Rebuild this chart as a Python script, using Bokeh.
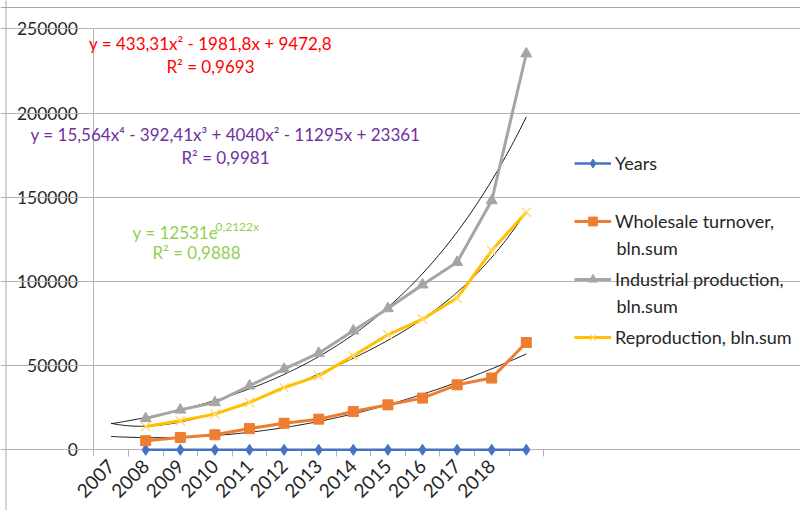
import numpy as np
from bokeh.plotting import figure
from bokeh.models import (FixedTicker, Range1d, Legend, LegendItem, Label, LinearAxis,
                          BasicTickFormatter, Grid, Span)
from bokeh.embed import file_html
from bokeh.resources import INLINE

# ---- data ----
tick_labels = ["2007", "2008", "2009", "2010", "2011", "2012", "2013",
               "2014", "2015", "2016", "2017", "2018"]
cat_index = [2, 3, 4, 5, 6, 7, 8, 9, 10, 11, 12, 13]
years = [0, 0, 0, 0, 0, 0, 0, 0, 0, 0, 0, 0]
wholesale = [5400, 7300, 8900, 12600, 15800, 18200, 22700, 26700, 30700, 38600, 42600, 63700]
industrial = [18600, 23700, 28100, 38000, 47900, 57400, 70700, 83900, 98000, 111400, 148000, 235200]
reproduction = [13800, 17200, 21200, 28100, 37000, 43900, 55800, 68300, 77600, 90100, 118300, 141100]
y_ticks = [0, 50000, 100000, 150000, 200000, 250000]

# trendline coefficients as displayed on the chart (x = 1..13)
quad_coef = [433.31, -1981.8, 9472.8]                     # wholesale
poly4_coef = [15.564, -392.41, 4040.0, -11295.0, 23361.0]  # reproduction
exp_coef = [12531.0, 0.2122]                               # industrial

FONT = "Lato"
W, H = 800, 510
PX_PER_CAT = 34.6
AXIS_X_PX = 93.3       # y axis position (category boundary 0.5)
ZERO_Y_PX = 449.3      # y = 0 position
PX_PER_UNIT_Y = 84.2 / 50000

x_start = 0.5 - AXIS_X_PX / PX_PER_CAT
x_end = 0.5 + (W - AXIS_X_PX) / PX_PER_CAT
y_end = ZERO_Y_PX / PX_PER_UNIT_Y
y_start = -(H - ZERO_Y_PX) / PX_PER_UNIT_Y


def px2x(px):
    return (px - AXIS_X_PX) / PX_PER_CAT + 0.5


def py2y(py):
    return (ZERO_Y_PX - py) / PX_PER_UNIT_Y


p = figure(width=W, height=H, output_backend="svg", toolbar_location=None,
           x_range=Range1d(x_start, x_end), y_range=Range1d(y_start, y_end),
           x_axis_location=None, y_axis_location=None,
           min_border=0)
p.outline_line_color = None
p.background_fill_color = "white"
p.border_fill_color = "white"
p.xgrid.visible = False
p.ygrid.visible = False

# chart-area border (top and left edges visible in the reference)
p.add_layout(Span(location=py2y(7), dimension="width", line_color="#a6a6a6",
                  line_width=1, level="underlay"))
p.add_layout(Span(location=px2x(5.5), dimension="height", line_color="#a6a6a6",
                  line_width=1, level="underlay"))

grid = Grid(dimension=1, ticker=FixedTicker(ticks=y_ticks), bounds=(0.5, 13.5),
            grid_line_color="#b4b4b4", grid_line_width=1, level="underlay")
p.add_layout(grid)

yax = LinearAxis(fixed_location=0.5, ticker=FixedTicker(ticks=y_ticks),
                 formatter=BasicTickFormatter(use_scientific=False),
                 bounds=(0, 250000), level="underlay")
yax.axis_line_color = "#b4b4b4"
yax.major_tick_line_color = "#b4b4b4"
yax.major_tick_out = 7
yax.major_tick_in = 0
yax.minor_tick_line_color = None
yax.major_label_text_font = FONT
yax.major_label_text_font_size = "17.5px"
yax.major_label_text_color = "#262626"
yax.major_label_standoff = 9
p.add_layout(yax, "left")

label_ticks = [i + 1 for i in range(len(tick_labels))]
xax = LinearAxis(fixed_location=0, bounds=(0.5, 13.5), level="underlay",
                 ticker=FixedTicker(ticks=label_ticks,
                                    minor_ticks=[i + 0.5 for i in range(0, 14)]))
xax.major_label_overrides = {t: lab for t, lab in zip(label_ticks, tick_labels)}
xax.major_tick_line_color = None
xax.minor_tick_line_color = "#b4b4b4"
xax.minor_tick_out = 7
xax.minor_tick_in = 0
xax.axis_line_color = "#b4b4b4"
xax.major_label_orientation = np.pi / 4
xax.major_label_text_font = FONT
xax.major_label_text_font_size = "19px"
xax.major_label_text_color = "#262626"
xax.major_label_standoff = 6
p.add_layout(xax, "below")

# trendlines
xs = np.linspace(1, 13, 200)
y_quad = np.polyval(quad_coef, xs)
y_poly4 = np.polyval(poly4_coef, xs)
y_exp = exp_coef[0] * np.exp(exp_coef[1] * xs)
for yy in (y_quad, y_poly4, y_exp):
    p.line(xs, yy, line_color="#1a1a1a", line_width=1)

# series
r_years_l = p.line(cat_index, years, line_color="#4472C4", line_width=2.5)
r_years_m = p.scatter(cat_index, years, marker="diamond", size=11, color="#4472C4")
r_wh_l = p.line(cat_index, wholesale, line_color="#ED7D31", line_width=3)
r_wh_m = p.scatter(cat_index, wholesale, marker="square", size=10, color="#ED7D31")
r_in_l = p.line(cat_index, industrial, line_color="#A5A5A5", line_width=3)
r_in_m = p.scatter(cat_index, industrial, marker="triangle", size=11, color="#A5A5A5")
r_re_l = p.line(cat_index, reproduction, line_color="#FFC000", line_width=3)
r_re_m = p.scatter(cat_index, reproduction, marker="x", size=13, line_color="#FFD966",
                   line_width=1.3)

# legend (first lines of the entries; second lines added as labels below)
ITEM_H = 22
SPACING = 36
legend_top = 163 - ITEM_H / 2
legend_bottom = legend_top + 4 * ITEM_H + 3 * SPACING
legend = Legend(items=[
    LegendItem(label="Years", renderers=[r_years_l, r_years_m]),
    LegendItem(label="Wholesale turnover,", renderers=[r_wh_l, r_wh_m]),
    LegendItem(label="Industrial production,", renderers=[r_in_l, r_in_m]),
    LegendItem(label="Reproduction, bln.sum", renderers=[r_re_l, r_re_m]),
], location=(574, H - legend_bottom))
legend.label_text_font = FONT
legend.label_text_font_size = "18px"
legend.label_text_color = "#262626"
legend.glyph_width = 37
legend.glyph_height = ITEM_H
legend.label_height = ITEM_H
legend.label_standoff = 4
legend.spacing = SPACING
legend.padding = 0
legend.margin = 0
legend.border_line_color = None
legend.background_fill_alpha = 0
p.add_layout(legend, "center")

for cy in (247, 305):
    p.add_layout(Label(x=px2x(616), y=py2y(cy), text="bln.sum", text_align="left",
                       text_baseline="middle", text_font=FONT, text_font_size="18px",
                       text_color="#262626"))

# trendline equations (positions in reference pixels)
eq_font = "17px"
labels = [
    ("y = 433,31x² - 1981,8x + 9472,8", 210, 43, "#FF0000"),
    ("R² = 0,9693", 210, 66, "#FF0000"),
    ("y = 15,564x⁴ - 392,41x³ + 4040x² - 11295x + 23361", 225, 134, "#7030A0"),
    ("R² = 0,9981", 225, 157, "#7030A0"),
    ("R² = 0,9888", 196, 252, "#92D050"),
]
for txt, cx, cy, col in labels:
    p.add_layout(Label(x=px2x(cx), y=py2y(cy), text=txt, text_align="center",
                       text_baseline="middle", text_font=FONT,
                       text_font_size=eq_font, text_color=col))
p.add_layout(Label(x=px2x(132), y=py2y(232), text="y = 12531e", text_align="left",
                   text_baseline="middle", text_font=FONT, text_font_size=eq_font,
                   text_color="#92D050"))
p.add_layout(Label(x=px2x(215), y=py2y(226), text="0,2122x", text_align="left",
                   text_baseline="middle", text_font=FONT, text_font_size="12px",
                   text_color="#92D050"))

open("out.html", "w").write(file_html(p, INLINE))
